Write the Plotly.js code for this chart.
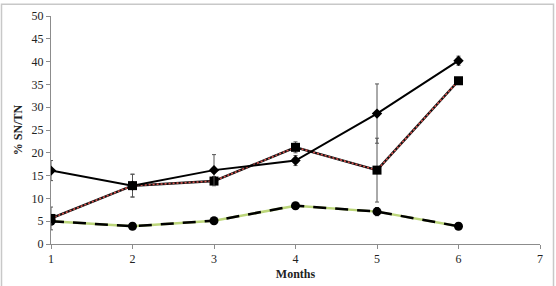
<!DOCTYPE html>
<html>
<head>
<meta charset="utf-8">
<script src="https://cdn.plot.ly/plotly-3.0.1.min.js"></script>
<style>
  html, body { margin: 0; padding: 0; background: #fff; }
  #chart { width: 556px; height: 286px; }
</style>
</head>
<body>
<div id="chart"></div>
<script>
// Months of sampling
const months = [1, 2, 3, 4, 5, 6];

// Series A (diamonds, solid black line)
const seriesA = [16.1, 12.8, 16.2, 18.3, 28.6, 40.2];
const seriesAErr = [2.2, 2.5, 3.4, 1.1, 6.5, 1.0];

// Series B (squares, red dotted line)
const seriesB = [5.6, 12.8, 13.8, 21.2, 16.2, 35.8];
const seriesBErr = [2.5, 2.5, 1.0, 1.2, 7.0, 0.0];

// Series C (circles, green/black dashed line)
const seriesC = [5.0, 3.9, 5.1, 8.4, 7.1, 3.9];
const seriesCErr = [0.6, 0.4, 0.6, 0.7, 0.9, 0.7];

const xTicks = [1, 2, 3, 4, 5, 6, 7];
const yTicks = [0, 5, 10, 15, 20, 25, 30, 35, 40, 45, 50];

const errStyle = (arr) => ({
  type: 'data', array: arr, visible: true,
  color: '#555', thickness: 1, width: 2
});

const traces = [
  // Series C: light green base with black long dashes on top
  { x: months, y: seriesC, mode: 'lines', line: { color: '#bcd67a', width: 2.5 },
    hoverinfo: 'skip', showlegend: false },
  { x: months, y: seriesC, mode: 'lines+markers', error_y: errStyle(seriesCErr),
    line: { color: '#000', width: 2.5, dash: '13px,9px' },
    marker: { symbol: 'circle', size: 9, color: '#000' }, showlegend: false },

  // Series B: black base with red dots on top
  { x: months, y: seriesB, mode: 'lines', line: { color: '#111', width: 2.5 },
    hoverinfo: 'skip', showlegend: false },
  { x: months, y: seriesB, mode: 'lines', line: { color: '#d9534f', width: 1.6, dash: '2px,2px' },
    hoverinfo: 'skip', showlegend: false },
  { x: months, y: seriesB, mode: 'markers', error_y: errStyle(seriesBErr),
    marker: { symbol: 'square', size: 9, color: '#000' }, showlegend: false },

  // Series A: solid black with diamonds
  { x: months, y: seriesA, mode: 'lines+markers', error_y: errStyle(seriesAErr),
    line: { color: '#000', width: 2 },
    marker: { symbol: 'diamond', size: 8, color: '#000' }, showlegend: false }
];

const fontSerif = 'Liberation Serif, Times New Roman, serif';

// outer frame in paper coordinates (plot area spans 51..540 px, 15.7..244.3 px)
const px = (v) => (v - 51) / 489;
const py = (v) => (244.3 - v) / 228.6;

const layout = {
  width: 556, height: 286,
  margin: { l: 51, r: 16, t: 15.7, b: 41.7, pad: 0 },
  paper_bgcolor: '#fff', plot_bgcolor: '#fff',
  font: { family: fontSerif, size: 12, color: '#222' },
  showlegend: false,
  xaxis: {
    range: [1, 7], tickvals: xTicks, ticktext: xTicks.map(String),
    showgrid: false, zeroline: false,
    showline: true, linecolor: '#8c8c8c', linewidth: 1,
    ticks: 'outside', ticklen: 4, tickcolor: '#8c8c8c',
    tickfont: { family: fontSerif, size: 12, color: '#222' },
    title: { text: '<b>Months</b>', font: { family: fontSerif, size: 12, color: '#222' }, standoff: 4 }
  },
  yaxis: {
    range: [0, 50], tickvals: yTicks, ticktext: yTicks.map(String),
    showgrid: false, zeroline: false,
    showline: true, linecolor: '#8c8c8c', linewidth: 1,
    ticks: 'outside', ticklen: 4, tickcolor: '#8c8c8c',
    tickfont: { family: fontSerif, size: 12, color: '#222' },
    title: { text: '<b>% SN/TN</b>', font: { family: fontSerif, size: 12, color: '#222' }, standoff: 6 }
  },
  shapes: [{
    type: 'rect', xref: 'paper', yref: 'paper',
    x0: px(1.5), x1: px(553.5), y0: py(290), y1: py(4),
    line: { color: '#c8c8c8', width: 1.5 }, fillcolor: 'rgba(0,0,0,0)', layer: 'below'
  }]
};

Plotly.newPlot('chart', traces, layout, { staticPlot: true, displayModeBar: false });
</script>
</body>
</html>
